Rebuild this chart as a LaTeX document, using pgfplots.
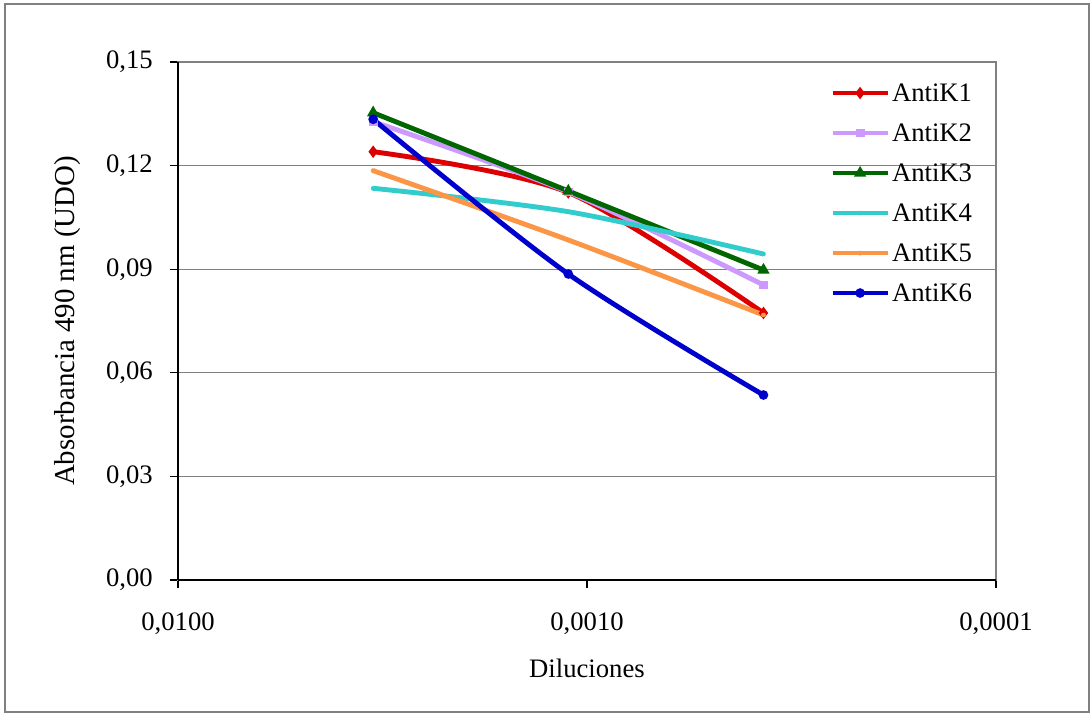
\documentclass[border=0pt]{standalone}
\usepackage{pgfplots}
\pgfplotsset{compat=1.18}
\usepackage{fontspec}
\setmainfont{Liberation Serif}
\definecolor{cK1}{RGB}{221,0,0}
\definecolor{cK2}{RGB}{204,153,255}
\definecolor{cK3}{RGB}{0,102,0}
\definecolor{cK4}{RGB}{51,204,204}
\definecolor{cK5}{RGB}{250,150,70}
\definecolor{cK6}{RGB}{0,0,204}
\definecolor{gridg}{RGB}{128,128,128}
\begin{document}
\fontsize{12pt}{14pt}\selectfont
\begin{tikzpicture}
\useasboundingbox (-80.1pt,-60.75pt) rectangle (410.85pt,261pt);
\draw[gridg, line width=0.6pt] (-77.85pt,-59.4pt) rectangle (409.95pt,259.2pt);
\begin{axis}[
  at={(0pt,0pt)}, anchor=south west,
  scale only axis, width=368.1pt, height=233.1pt,
  xmode=log, x dir=reverse,
  xmin=0.0001, xmax=0.01,
  ymin=0, ymax=0.15,
  xtick={0.01,0.001,0.0001},
  xticklabels={{0,0100},{0,0010},{0,0001}},
  ytick={0,0.03,0.06,0.09,0.12,0.15},
  /pgf/number format/fixed, /pgf/number format/fixed zerofill,
  /pgf/number format/precision=2, /pgf/number format/use comma,
  /pgf/number format/assume math mode=true,
  yticklabel style={xshift=-3.6pt},
  xticklabel style={yshift=-7pt},
  tick align=outside,
  major tick length=3.6pt,
  minor tick length=2.4pt,
  tick style={black, line width=0.5pt},
  ytick pos=left, xtick pos=bottom,
  ymajorgrids, grid style={gridg, line width=0.6pt},
  axis line style={gridg, line width=0.8pt},
  xlabel={Diluciones},
  ylabel={Absorbancia 490 nm (UDO)},
  tick label style={font=\fontsize{12pt}{14pt}\selectfont},
  xlabel style={at={(axis description cs:0.5,-0.17)}, anchor=center, font=\fontsize{12pt}{14pt}\selectfont},
  ylabel style={at={(axis description cs:-0.1345,0.5)}, anchor=center, font=\fontsize{13pt}{15pt}\selectfont},
  legend style={draw=none, fill=none, at={(0.7885,0.9727)}, anchor=north west,
    font=\fontsize{12pt}{14pt}\selectfont,
    nodes={inner sep=0pt, text height=9pt, text depth=3pt, anchor=base west},
    row sep=6pt, column sep=0.9pt},
  legend cell align=left,
  legend image code/.code={\draw[mark repeat=2,mark phase=2,#1] plot coordinates {(0pt,0.3em) (12.4pt,0.3em) (24.75pt,0.3em)};},
  clip=false,
]
\addplot[cK1, line width=2.2pt, smooth, mark=diamond*, mark size=1pt] coordinates {(0.0033333,0.12403) (0.0011111,0.11221) (0.00037037,0.07732)};
\addlegendentry{AntiK1}
\addplot[cK2, line width=2.2pt, smooth, mark=square*, mark size=0.9pt] coordinates {(0.0033333,0.13272) (0.0011111,0.11236) (0.00037037,0.08543)};
\addlegendentry{AntiK2}
\addplot[cK3, line width=2.2pt, smooth, mark=triangle*, mark size=1pt] coordinates {(0.0033333,0.13532) (0.0011111,0.11265) (0.00037037,0.08977)};
\addlegendentry{AntiK3}
\addplot[cK4, line width=2.2pt, smooth, mark=x, mark size=1pt, mark options={line width=1pt}] coordinates {(0.0033333,0.11343) (0.0011111,0.10665) (0.00037037,0.09440)};
\addlegendentry{AntiK4}
\addplot[cK5, line width=2.2pt, smooth, mark=asterisk, mark size=1pt, mark options={line width=1pt}] coordinates {(0.0033333,0.11853) (0.0011111,0.09846) (0.00037037,0.07674)};
\addlegendentry{AntiK5}
\addplot[cK6, line width=2.2pt, smooth, mark=*, mark size=1pt] coordinates {(0.0033333,0.13341) (0.0011111,0.08861) (0.00037037,0.05357)};
\addlegendentry{AntiK6}
\draw[black, line width=0.8pt] (rel axis cs:0,0) -- (rel axis cs:0,1);
\draw[black, line width=0.8pt] (rel axis cs:0,0) -- (rel axis cs:1,0);
\end{axis}
\end{tikzpicture}
\end{document}
